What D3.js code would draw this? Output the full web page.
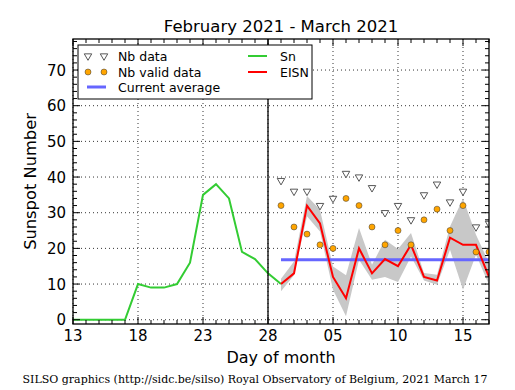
<!DOCTYPE html>
<html><head><meta charset="utf-8">
<script src="https://cdn.jsdelivr.net/npm/d3@7"></script>
<style>
html,body{margin:0;padding:0;background:#fff;}
svg{display:block;}
text{font-family:"DejaVu Sans",sans-serif;}
text.serif{font-family:"DejaVu Serif",serif;}
</style></head>
<body><svg id="c" width="515" height="390"></svg>
<script>
// ---- data ----
const snDates = ["2021-02-13","2021-02-14","2021-02-15","2021-02-16","2021-02-17","2021-02-18","2021-02-19","2021-02-20","2021-02-21","2021-02-22","2021-02-23","2021-02-24","2021-02-25","2021-02-26","2021-02-27","2021-02-28","2021-03-01"];
const snValues = [0,0,0,0,0,10,9,9,10,16,35,38,34,19,17,13,10];
const eisnDates = ["2021-03-01","2021-03-02","2021-03-03","2021-03-04","2021-03-05","2021-03-06","2021-03-07","2021-03-08","2021-03-09","2021-03-10","2021-03-11","2021-03-12","2021-03-13","2021-03-14","2021-03-15","2021-03-16","2021-03-17"];
const eisnValues = [10,13,32,27,12,6,20,13,17,15,21,12,11,23,21,21,12];
const eisnLow  = [8,12.5,29,24.7,8.4,1,16.8,11.2,12,10.6,17.7,11,9.8,19.6,8.4,18.2,9.8];
const eisnHigh = [11.5,16.3,34.7,30.8,14.9,12.5,25.7,15.4,22.4,19.8,24.3,13.1,12.6,26.1,34,23.8,15.9];
const nbData  = [39,36,36,32,34,41,40,37,30,32,28,35,38,33,36,26,27];
const nbValid = [32,26,24,21,20,34,32,26,21,25,21,28,31,25,32,19,19];
const currentAverage = [16.8];
const xTickDates = ["2021-02-13","2021-02-18","2021-02-23","2021-02-28","2021-03-05","2021-03-10","2021-03-15"];
const yTicks = [0,10,20,30,40,50,60,70];
const xDomain = ["2021-02-13","2021-03-17"];
const yDomain = [-1.2, 78.7];
const markerDate = "2021-02-28";
const titleText = "February 2021 - March 2021";
const footerText = "SILSO graphics (http://sidc.be/silso) Royal Observatory of Belgium, 2021 March 17";

// ---- layout ----
const W = 515, H = 390;
const m = {left:73, right:26, top:39, bottom:66};
const pw = W - m.left - m.right, ph = H - m.top - m.bottom;
const parse = d3.utcParse("%Y-%m-%d");
const svg = d3.select("#c");
const x = d3.scaleUtc().domain(xDomain.map(parse)).range([0, pw]);
const y = d3.scaleLinear().domain(yDomain).range([ph, 0]);
const g = svg.append("g").attr("transform", `translate(${m.left},${m.top})`);

svg.append("defs").append("clipPath").attr("id","clip")
  .append("rect").attr("x",0).attr("y",0).attr("width",pw).attr("height",ph);

// grid
const grid = g.append("g");
xTickDates.forEach(d => {
  grid.append("line").attr("x1", x(parse(d))).attr("x2", x(parse(d)))
    .attr("y1",0).attr("y2",ph).attr("stroke","#000").attr("stroke-width",0.8).attr("stroke-dasharray","1,3");
});
yTicks.forEach(v => {
  grid.append("line").attr("x1",0).attr("x2",pw).attr("y1",y(v)).attr("y2",y(v))
    .attr("stroke","#000").attr("stroke-width",0.8).attr("stroke-dasharray","1,3");
});

const plot = g.append("g").attr("clip-path","url(#clip)");

// band
const eisnData = eisnDates.map((d,i)=>({d:parse(d), v:eisnValues[i], lo:eisnLow[i], hi:eisnHigh[i], nb:nbData[i], nv:nbValid[i]}));
plot.append("path").datum(eisnData)
  .attr("d", d3.area().x(d=>x(d.d)).y0(d=>y(d.lo)).y1(d=>y(d.hi)))
  .attr("fill","#c8c8c8").attr("stroke","none");

// sn line
const snData = snDates.map((d,i)=>({d:parse(d), v:snValues[i]}));
plot.append("path").datum(snData)
  .attr("d", d3.line().x(d=>x(d.d)).y(d=>y(d.v)))
  .attr("fill","none").attr("stroke","#33cc33").attr("stroke-width",2);

// current average
plot.append("line")
  .attr("x1", x(parse(eisnDates[0]))).attr("x2", x(parse(eisnDates[eisnDates.length-1])))
  .attr("y1", y(currentAverage[0])).attr("y2", y(currentAverage[0]))
  .attr("stroke","#6666ff").attr("stroke-width",3);

// eisn line
plot.append("path").datum(eisnData)
  .attr("d", d3.line().x(d=>x(d.d)).y(d=>y(d.v)))
  .attr("fill","none").attr("stroke","#ff0000").attr("stroke-width",2);

// markers
const tri = d3.symbol().type(d3.symbolTriangle).size(24);
plot.selectAll(".nb").data(eisnData).enter().append("path")
  .attr("d", tri).attr("transform", d=>`translate(${x(d.d)},${y(d.nb)}) rotate(180)`)
  .attr("fill","#fff").attr("stroke","#444").attr("stroke-width",0.9);
plot.selectAll(".nv").data(eisnData).enter().append("circle")
  .attr("cx", d=>x(d.d)).attr("cy", d=>y(d.nv)).attr("r",3)
  .attr("fill","#ffa500").attr("stroke","#333").attr("stroke-width",0.5);

// vertical marker line
g.append("line").attr("x1", x(parse(markerDate))).attr("x2", x(parse(markerDate)))
  .attr("y1",0).attr("y2",ph).attr("stroke","#000").attr("stroke-width",1.3);

// ticks (inward, four sides)
const ticks = g.append("g").attr("stroke","#000").attr("stroke-width",1);
const dayTicks = d3.utcDay.range(parse(xDomain[0]), d3.utcDay.offset(parse(xDomain[1]),1));
const majSet = new Set(xTickDates);
dayTicks.forEach(d => {
  const key = d3.utcFormat("%Y-%m-%d")(d);
  const L = majSet.has(key) ? 7 : 4;
  const xx = x(d);
  ticks.append("line").attr("x1",xx).attr("x2",xx).attr("y1",ph).attr("y2",ph-L);
  ticks.append("line").attr("x1",xx).attr("x2",xx).attr("y1",0).attr("y2",L);
});
for (let v = 0; v <= 78; v += 2) {
  const L = (v % 10 === 0) ? 7 : 4;
  const yy = y(v);
  ticks.append("line").attr("x1",0).attr("x2",L).attr("y1",yy).attr("y2",yy);
  ticks.append("line").attr("x1",pw).attr("x2",pw-L).attr("y1",yy).attr("y2",yy);
}

// frame
g.append("rect").attr("x",0).attr("y",0).attr("width",pw).attr("height",ph)
  .attr("fill","none").attr("stroke","#000").attr("stroke-width",1.3);

// tick labels
const fmtDay = d3.utcFormat("%d");
xTickDates.forEach(d => {
  g.append("text").attr("x", x(parse(d))).attr("y", ph+17).attr("text-anchor","middle")
    .attr("font-size",15).text(fmtDay(parse(d)));
});
yTicks.forEach(v => {
  g.append("text").attr("x", -7).attr("y", y(v)+5.5).attr("text-anchor","end")
    .attr("font-size",15).text(v);
});

// axis labels & title
svg.append("text").attr("x", m.left+pw/2).attr("y", 363).attr("text-anchor","middle")
  .attr("font-size",16).text("Day of month");
svg.append("text").attr("transform", `translate(36,${m.top+ph/2}) rotate(-90)`).attr("text-anchor","middle")
  .attr("font-size",16.3).text("Sunspot Number");
svg.append("text").attr("x", m.left+pw/2).attr("y", 32).attr("text-anchor","middle")
  .attr("font-size",16.5).text(titleText);
svg.append("text").attr("class","serif").attr("x", 255).attr("y", 383).attr("text-anchor","middle")
  .attr("font-size",11).text(footerText);

// legend
const lg = svg.append("g");
lg.append("rect").attr("x",78).attr("y",45).attr("width",234).attr("height",54)
  .attr("fill","#fff").attr("stroke","#000").attr("stroke-width",1);
[88,104].forEach(px => {
  lg.append("path").attr("d", tri).attr("transform", `translate(${px},56) rotate(180)`)
    .attr("fill","#fff").attr("stroke","#444").attr("stroke-width",0.9);
  lg.append("circle").attr("cx",px).attr("cy",72).attr("r",3)
    .attr("fill","#ffa500").attr("stroke","#333").attr("stroke-width",0.5);
});
lg.append("line").attr("x1",87).attr("x2",106).attr("y1",87).attr("y2",87)
  .attr("stroke","#6666ff").attr("stroke-width",3);
lg.append("line").attr("x1",248).attr("x2",267).attr("y1",56).attr("y2",56)
  .attr("stroke","#33cc33").attr("stroke-width",2);
lg.append("line").attr("x1",248).attr("x2",267).attr("y1",72).attr("y2",72)
  .attr("stroke","#ff0000").attr("stroke-width",2);
const legendItems = [["Nb data",118,60.5],["Nb valid data",118,76.5],["Current average",118,91.5],["Sn",280,60.5],["EISN",280,76.5]];
legendItems.forEach(([t,lx,ly]) => {
  lg.append("text").attr("x",lx).attr("y",ly).attr("font-size",12.5).text(t);
});
</script></body></html>
